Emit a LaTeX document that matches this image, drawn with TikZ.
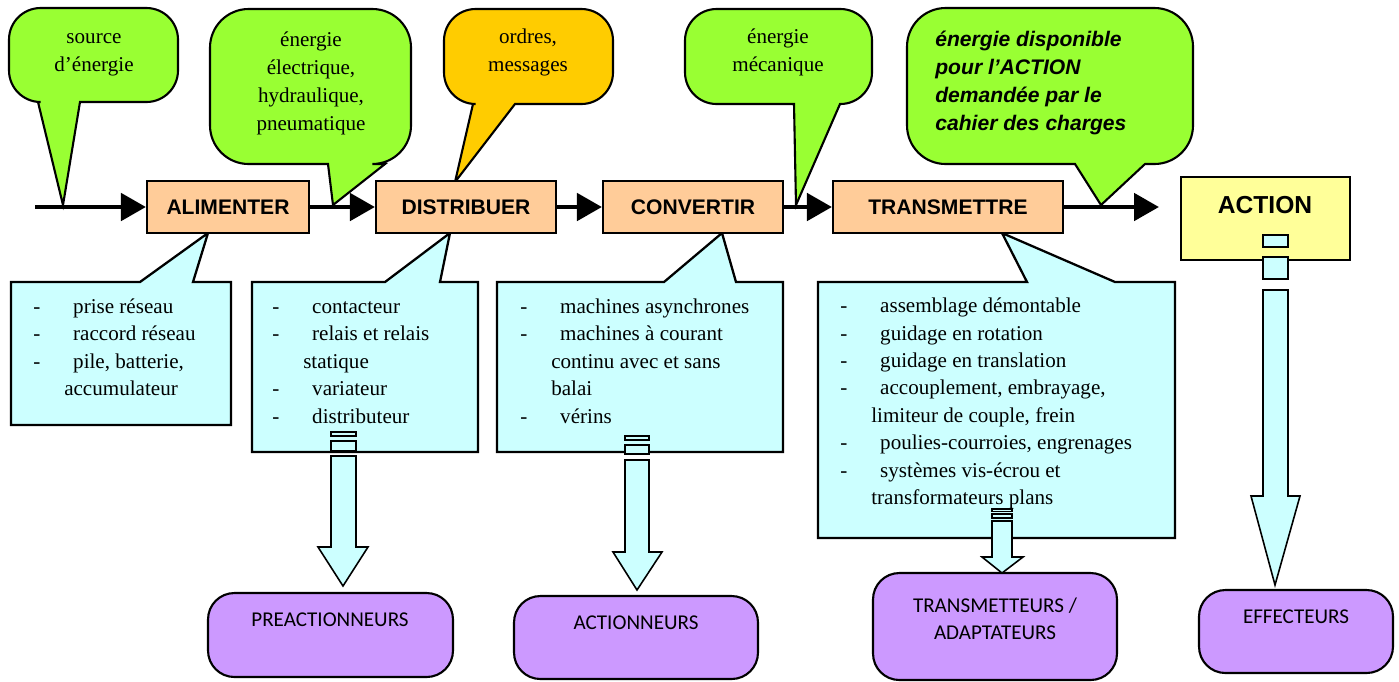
\documentclass[tikz,border=0pt]{standalone}
\usepackage{fontspec}
\setmainfont{Liberation Serif}
\newfontfamily\arialfont{Liberation Sans}
\newfontfamily\calibrifont{Carlito}
\usetikzlibrary{arrows.meta}

\definecolor{bubblegreen}{RGB}{153,255,51}
\definecolor{bubbleorange}{RGB}{255,204,0}
\definecolor{funcpeach}{RGB}{255,204,153}
\definecolor{listcyan}{RGB}{204,255,255}
\definecolor{actyellow}{RGB}{255,255,153}
\definecolor{partpurple}{RGB}{204,153,255}

% list items: dash, then the item text at a fixed indent
\newcommand\listdash[1]{\makebox[22.7pt][l]{-}#1}
\newcommand\listcont[1]{\hspace*{17.6pt}#1}

\begin{document}
\begin{tikzpicture}[x=0.02cm,y=-0.02cm,
  bubble/.style={draw=black,line width=1.2pt,line join=miter},
  bubbletext/.style={inner sep=0pt,align=center,font=\fontsize{12}{15.9}\selectfont},
  listbox/.style={draw=black,fill=listcyan,line width=1.3pt,line join=miter},
  listtext/.style={inner sep=0pt,align=left,anchor=base west,font=\fontsize{12}{15.6}\selectfont},
  funcbox/.style={draw=black,fill=funcpeach,line width=1.2pt,minimum height=1.04cm,
    inner sep=0pt,font=\arialfont\bfseries\fontsize{12}{14}\selectfont},
  flow/.style={line width=2.8pt,-{Triangle[length=0.5cm,width=0.54cm]}},
  partbox/.style={draw=black,fill=partpurple,line width=1.2pt,rounded corners=15pt},
  parttext/.style={inner sep=0pt,align=center,font=\calibrifont\fontsize{12}{15.3}\selectfont},
  blockarrow/.style={draw=black,fill=listcyan,line width=0.9pt,line join=miter}
]
\useasboundingbox (0,0) rectangle (1399,681);

% ---------- speech bubbles above the chain ----------
% (multi-line texts are placed by the baseline of their last line)
\draw[bubble,fill=bubblegreen] (38,102) -- (63,205) -- (80,102) [rounded corners=18]
  -- (178,102) -- (178,8) -- (9,8) -- (9,102) [sharp corners] -- cycle;
\node[bubbletext,anchor=base] (src) at (94,71) {source\\d’énergie};

\draw[bubble,fill=bubblegreen] (328,164) -- (333,205) -- (385,164) [rounded corners=22]
  -- (411,164) -- (411,9) -- (210,9) -- (210,164) [sharp corners] -- cycle;
\node[bubbletext,anchor=base] (nrj) at (311,130) {énergie\\électrique,\\hydraulique,\\pneumatique};

\draw[bubble,fill=bubbleorange] (473,104) -- (455,182) -- (515,104) [rounded corners=18]
  -- (613,104) -- (613,9) -- (444,9) -- (444,104) [sharp corners] -- cycle;
\node[bubbletext,anchor=base] (ord) at (528,71) {ordres,\\messages};

\draw[bubble,fill=bubblegreen] (794,104) -- (796,205) -- (840,104) [rounded corners=18]
  -- (872,104) -- (872,9) -- (685,9) -- (685,104) [sharp corners] -- cycle;
\node[bubbletext,anchor=base] (meca) at (778,71) {énergie\\mécanique};

\draw[bubble,fill=bubblegreen] (1075,164) -- (1101,205) -- (1145,164) [rounded corners=22]
  -- (1193,164) -- (1193,8) -- (907,8) -- (907,164) [sharp corners] -- cycle;
\node[bubbletext,anchor=base west,align=left,
  font=\arialfont\bfseries\itshape\fontsize{12}{15.9}\selectfont] (dispo) at (935,130)
  {énergie disponible\\pour l’ACTION\\demandée par le\\cahier des charges};

% ---------- lists of components below the chain ----------
\draw[listbox] (11,282) -- (140,282) -- (208,233) -- (193,282) -- (231,282)
  -- (231,425) -- (11,425) -- cycle;
\node[listtext] (lalim) at (33,395.5)
  {\listdash{prise réseau}\\\listdash{raccord réseau}\\\listdash{pile, batterie,}\\\listcont{accumulateur}};

\draw[listbox] (252,282) -- (385,282) -- (450,233) -- (440,282) -- (478,282)
  -- (478,452) -- (252,452) -- cycle;
\node[listtext] (ldist) at (272,423)
  {\listdash{contacteur}\\\listdash{relais et relais}\\\listcont{statique}\\\listdash{variateur}\\\listdash{distributeur}};

\draw[listbox] (497,282) -- (664,282) -- (722,233) -- (736,282) -- (783,282)
  -- (783,452) -- (497,452) -- cycle;
\node[listtext] (lconv) at (520,423)
  {\listdash{machines asynchrones}\\\listdash{machines à courant}\\\listcont{continu avec et sans}\\\listcont{balai}\\\listdash{vérins}};

\draw[listbox] (818,282) -- (1027,282) -- (1002,233) -- (1115,282) -- (1175,282)
  -- (1175,538) -- (818,538) -- cycle;
\node[listtext] (ltrans) at (840,504.5)
  {\listdash{assemblage démontable}\\\listdash{guidage en rotation}\\\listdash{guidage en translation}\\\listdash{accouplement, embrayage,}\\\listcont{limiteur de couple, frein}\\\listdash{poulies-courroies, engrenages}\\\listdash{systèmes vis-écrou et}\\\listcont{transformateurs plans}};

% ---------- functional chain ----------
\node[funcbox,minimum width=3.24cm] (ali) at (228,207) {ALIMENTER};
\node[funcbox,minimum width=3.6cm] (dis) at (466,207) {DISTRIBUER};
\node[funcbox,minimum width=3.6cm] (con) at (693,207) {CONVERTIR};
\node[funcbox,minimum width=4.6cm] (tra) at (948,207) {TRANSMETTRE};
\node[draw=black,fill=actyellow,line width=1.2pt,minimum width=3.38cm,minimum height=1.66cm] (act) at (1265.5,218.5) {};
\node[inner sep=0pt,font=\arialfont\bfseries\fontsize{14}{16}\selectfont] (acttxt) at (1265,205) {ACTION};

\coordinate (in) at (35,207);
\coordinate (out) at (1159,207);
\draw[flow] (in) -- (ali.west);
\draw[flow] (ali.east) -- (dis.west);
\draw[flow] (dis.east) -- (con.west);
\draw[flow] (con.east) -- (tra.west);
\draw[flow] (tra.east) -- (out);

% ---------- component families ----------
\node[partbox,minimum width=4.9cm,minimum height=1.68cm] (pre) at (330.5,635) {};
\node[parttext] (pretxt) at (330,620) {PREACTIONNEURS};
\node[partbox,minimum width=4.88cm,minimum height=1.66cm] (acn) at (636,637.5) {};
\node[parttext] (acntxt) at (636,623) {ACTIONNEURS};
\node[partbox,minimum width=4.88cm,minimum height=2.14cm] (tad) at (995,626.5) {};
\node[parttext] (tadtxt) at (995,618.5) {TRANSMETTEURS /\\ADAPTATEURS};
\node[partbox,minimum width=3.88cm,minimum height=1.66cm] (eff) at (1296,631.5) {};
\node[parttext] (efftxt) at (1296,617) {EFFECTEURS};

% ---------- striped block arrows ----------
% towards the pre-actuators
\draw[blockarrow] (331,432) rectangle (356,436);
\draw[blockarrow] (331,441) rectangle (356,451);
\draw[blockarrow] (331,456) -- (356,456) -- (356,547) -- (368,547) -- (343,586)
  -- (318,547) -- (331,547) -- cycle;
% towards the actuators
\draw[blockarrow] (625,436) rectangle (649,440);
\draw[blockarrow] (625,445) rectangle (649,454);
\draw[blockarrow] (625,460) -- (649,460) -- (649,552) -- (662,552) -- (637,590)
  -- (613,552) -- (625,552) -- cycle;
% towards the transmitters / adapters
\draw[blockarrow] (992,509) rectangle (1012,511.5);
\draw[blockarrow] (992,514) rectangle (1012,518);
\draw[blockarrow] (992,521) -- (1012,521) -- (1012,557) -- (1023,557) -- (1002,573)
  -- (982,557) -- (992,557) -- cycle;
% towards the end effectors
\draw[blockarrow] (1263,235) rectangle (1288,247);
\draw[blockarrow] (1263,257) rectangle (1288,279);
\draw[blockarrow] (1263,290) -- (1288,290) -- (1288,496) -- (1300,496) -- (1275,585)
  -- (1251,496) -- (1263,496) -- cycle;
\end{tikzpicture}
\end{document}
